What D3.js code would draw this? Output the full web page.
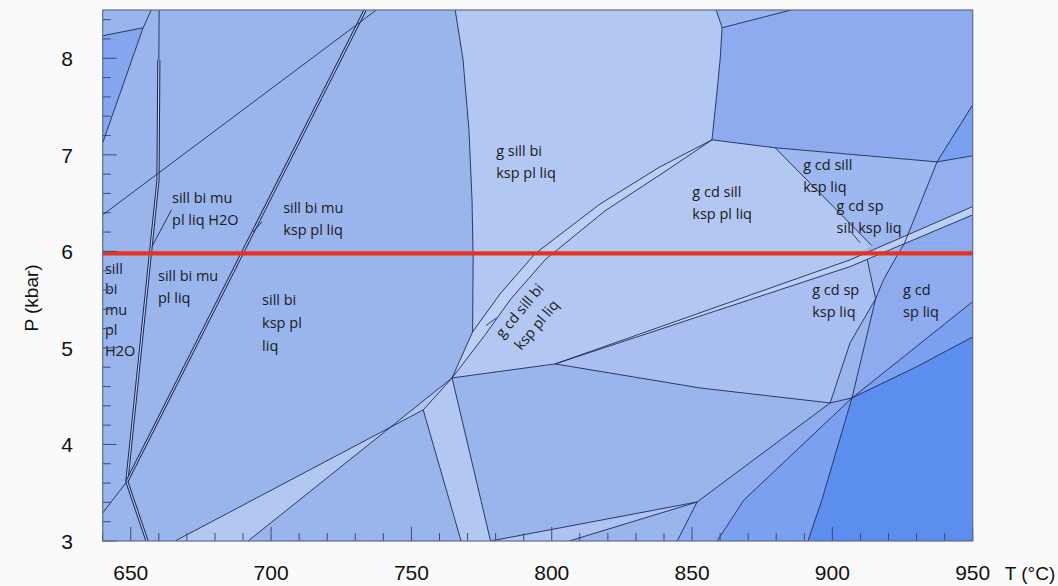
<!DOCTYPE html>
<html><head><meta charset="utf-8">
<script src="https://cdn.jsdelivr.net/npm/d3@7"></script>
<style>body{margin:0;background:#fafafa;overflow:hidden}</style></head>
<body><svg id="chart" width="1058" height="586"></svg>
<script>
// ---------- data (T in °C, P in kbar) ----------
const xTicks = [650,700,750,800,850,900,950];
const yTicks = [3,4,5,6,7,8];
const redLineP = 5.98;

// named points of the grid
const J1 = [648.6,3.615], W0 = [801.2,4.834], A0 = [764.5,4.689], A6 = [857.1,7.155];
const Q1 = [879.6,7.073], Q2 = [937.3,6.927], K = [907.0,4.482], M = [851.8,3.404];
const J2 = [915.4,5.508], E1 = [914.0,6.061], E2 = [926.9,6.172], E3 = [925.6,6.079], E4 = [912.4,5.919];
const C1 = [899.2,4.43], P1 = [754.2,4.358];

// fields
const fieldTriangle = [[640,8.233],[654.4,8.316],[640,7.124]];
const fieldL1 = [[765.6,8.5],[858.6,8.5],[860.7,8.316],[860.0,7.984],[858.6,7.57],A6,[838.6,6.876],[817.2,6.49],[794,5.974],[781.6,5.56],[771.8,5.166],[772.0,5.912],[771.6,6.534],[770.5,7.259],[768.4,7.984]];
const bandUpper = [A0,[771.8,5.166],[781.6,5.56],[794,5.974],[817.2,6.49],[838.6,6.876],A6];
const bandLower = [A0,[776,5.125],[785.5,5.51],[797.6,5.912],[819,6.42],[840,6.82],A6];
const wedgeUpper = [W0,[906.3,5.912],[950,6.464]];
const wedgeLower = [W0,[906.3,5.842],[950,6.378]];
const q2Line = [Q2,E2,E3,[923.6,5.984],[918.2,5.705],J2,K];
const fieldL2 = [A0,[776,5.125],[785.5,5.51],[797.6,5.912],[819,6.42],[840,6.82],A6,Q1,E1,[906.3,5.912],W0];
const fieldTopRight = [[860.7,8.316],[885.3,8.5],[950,8.5],[950,7.518],Q2,Q1,A6,[858.6,7.57],[860.0,7.984]];
const fieldRightNotch = [[950,7.518],Q2,[950,6.99]];
const fieldGcdSill = [Q1,Q2,E2,E1];
const fieldRightUpper = [Q2,[950,6.99],[950,6.464],E2];
const fieldWedge = [W0,[906.3,5.912],[950,6.464],[950,6.378],[906.3,5.842]];
const fieldGcdSpLiq = [E3,[950,6.378],[950,5.48],K,J2,[918.2,5.705],[923.6,5.984]];
const fieldSpKsp = [W0,[906.3,5.842],E4,J2,[906.3,5.052],C1,[852.9,4.585]];
const fieldSmallTri = [E4,E3,[923.6,5.984],[918.2,5.705],J2];
const fieldMidDark = [K,[950,5.48],[950,5.114],[930.1,4.806]];
const fieldDarkest = [K,[930.1,4.806],[950,5.114],[950,3],[891.3,3],[896.3,3.43]];
const fieldAB = [[844.7,3],M,C1,K,[868.5,3.425],[858.9,3]];
const fieldBDark = [[858.9,3],[868.5,3.425],K,[896.3,3.43],[891.3,3]];
const bandDiag = [[665.8,3],P1,A0,[691.8,3]];
const bandSteep = [P1,A0,[778.2,3],[767.7,3]];
const sliverBottom = [M,[806.2,3],[778.2,3]];

// phase boundaries
const linesSingle = [
  [[640,8.233],[654.4,8.316],[657.3,8.5]],
  [[654.4,8.316],[640,7.124]],
  [[660.1,8.5],[660.0,7.98]],
  [[640,6.378],[737.5,8.5]],
  [J1,[640,3.29]],
  [[657.5,6.047],[664.5,6.43]],
  [[693.5,6.2],[696.8,6.306]],
  [[765.6,8.5],[768.4,7.984],[770.5,7.259],[771.6,6.534],[772.0,5.912],[771.8,5.166]],
  [[858.6,8.5],[860.7,8.316],[860.0,7.984],[858.6,7.57],A6],
  [[860.7,8.316],[885.3,8.5]],
  [A6,Q1,Q2,[950,6.99]],
  [Q1,E1],
  [[950,7.518],Q2],
  q2Line, wedgeUpper, wedgeLower,
  [E4,J2],
  [J2,[906.3,5.052],C1],
  [A0,W0,[852.9,4.585],C1,K],
  [K,[930.1,4.806],[950,5.114]],
  [K,[950,5.48]],
  [K,[896.3,3.43],[891.3,3]],
  [K,[868.5,3.425],[858.9,3]],
  [C1,M,[844.7,3]],
  [M,[806.2,3]],
  [M,[778.2,3]],
  [[665.8,3],P1],
  [[691.8,3],A0],
  [[767.7,3],P1],
  [[778.2,3],A0],
  [P1,A0],
  [[776.5,5.23],[780.3,5.31]],
  [[906.3,6.21],[909.9,6.09]]
];
const linesDouble = [
  [[660.0,7.98],[659.7,6.74],J1],
  [J1,[733.5,8.5]],
  [J1,[655.8,3]]
];

// labels: text lines with their anchor (T,P)
const labels = [
  {lines:["g sill bi","ksp pl liq"], T:780.2, P:6.99},
  {lines:["g cd sill","ksp pl liq"], T:850.1, P:6.565},
  {lines:["g cd sill","ksp liq"], T:889.6, P:6.845},
  {lines:["g cd sp","sill ksp liq"], T:901.5, P:6.42},
  {lines:["sill bi mu","pl liq H2O"], T:664.7, P:6.503},
  {lines:["sill bi mu","ksp pl liq"], T:704.3, P:6.40},
  {lines:["sill","bi","mu","pl","H2O"], T:640.8, P:5.767, lh:20.5},
  {lines:["sill bi mu","pl liq"], T:659.7, P:5.694},
  {lines:["sill bi","ksp pl","liq"], T:696.8, P:5.446, lh:23},
  {lines:["g cd sill bi","ksp pl liq"], T:791.6, P:5.311, rot:-50},
  {lines:["g cd sp","ksp liq"], T:892.8, P:5.549},
  {lines:["g cd","sp liq"], T:925.2, P:5.549}
];

// ---------- styles ----------
const palette = {base:"#9ab4ec", light:"#b3c7f3", band:"#bccff6", dark:"#83a6ee",
  topRight:"#8eabef", gcd:"#9db7ef", rUpper:"#93aff0", spksp:"#a9bff2", smallTri:"#a0b8f0",
  gcdsp:"#8fabef", mid:"#7ba0ef", darkest:"#5b8eee", ab:"#8eabef", sliver:"#aec3f3"};
const lineCol = "#1d2b55";

const svg = d3.select("#chart");
const m = {l:102.7, r:972.7, t:10, b:541};
const x = d3.scaleLinear().domain([640,950]).range([m.l,m.r]);
const y = d3.scaleLinear().domain([3,8.5]).range([m.b,m.t]);
const line = d3.line().x(d=>x(d[0])).y(d=>y(d[1]));

svg.append("defs").append("clipPath").attr("id","clip").append("rect")
  .attr("x",m.l).attr("y",m.t).attr("width",m.r-m.l).attr("height",m.b-m.t);
const g = svg.append("g").attr("clip-path","url(#clip)");
g.append("rect").attr("x",m.l).attr("y",m.t).attr("width",m.r-m.l).attr("height",m.b-m.t).attr("fill",palette.base);

const fields = [
  [fieldTriangle,palette.dark],[fieldL1,palette.light],[fieldL2,palette.light],
  [fieldTopRight,palette.topRight],[fieldRightNotch,palette.mid],[fieldGcdSill,palette.gcd],
  [fieldRightUpper,palette.rUpper],[fieldGcdSpLiq,palette.gcdsp],[fieldSpKsp,palette.spksp],
  [fieldSmallTri,palette.smallTri],[fieldWedge,palette.band],[fieldMidDark,palette.mid],
  [fieldDarkest,palette.darkest],[fieldAB,palette.ab],[fieldBDark,palette.mid],
  [bandDiag,palette.light],[bandSteep,palette.light],[sliverBottom,palette.sliver],
  [bandUpper.concat(bandLower.slice().reverse()),palette.band]
];
fields.forEach(([pts,c])=>g.append("path").attr("d",line(pts)+"Z").attr("fill",c).attr("stroke","none"));

linesDouble.forEach(pts=>{
  g.append("path").attr("d",line(pts)).attr("fill","none").attr("stroke",lineCol).attr("stroke-width",3.2).attr("stroke-linejoin","round");
  g.append("path").attr("d",line(pts)).attr("fill","none").attr("stroke",palette.band).attr("stroke-width",1.1).attr("stroke-linejoin","round");
});
[bandUpper,bandLower].concat(linesSingle).forEach(pts=>
  g.append("path").attr("d",line(pts)).attr("fill","none").attr("stroke",lineCol).attr("stroke-width",0.9)
   .attr("stroke-linejoin","round"));

g.append("line").attr("x1",m.l).attr("x2",m.r).attr("y1",y(redLineP)).attr("y2",y(redLineP))
  .attr("stroke","#e8321e").attr("stroke-width",4.2);

labels.forEach(lb=>{
  const lh = lb.lh||22;
  const t = svg.append("text").attr("font-family","'Open Sans','Noto Sans',sans-serif").attr("font-size",14.5)
    .attr("fill","#1a1a1a");
  if(lb.rot){
    t.attr("transform",`translate(${x(lb.T)},${y(lb.P)}) rotate(${lb.rot})`).attr("text-anchor","middle");
    lb.lines.forEach((s,i)=>t.append("tspan").attr("x",0).attr("y",(i-0.5)*lh+5).text(s));
  } else {
    lb.lines.forEach((s,i)=>t.append("tspan").attr("x",x(lb.T)).attr("y",y(lb.P)+i*lh).text(s));
  }
});

const tickCol = "#3c4a78";
const xMinor = d3.range(640,951,10), yMinor = d3.range(3,8.51,0.2);
xMinor.forEach(v=>{const L = (v%50===0)?14:8;
  svg.append("line").attr("x1",x(v)).attr("x2",x(v)).attr("y1",m.b).attr("y2",m.b-L).attr("stroke",tickCol).attr("stroke-width",1);});
yMinor.forEach(v=>{const major = Math.abs(v-Math.round(v))<1e-6; const L = major?14:8;
  svg.append("line").attr("x1",m.l).attr("x2",m.l+L).attr("y1",y(v)).attr("y2",y(v)).attr("stroke",tickCol).attr("stroke-width",1);});
svg.append("rect").attr("x",m.l).attr("y",m.t).attr("width",m.r-m.l).attr("height",m.b-m.t)
  .attr("fill","none").attr("stroke","#5d6b92").attr("stroke-width",1.2);

const af = "'Liberation Sans',Arial,sans-serif";
xTicks.forEach(v=>svg.append("text").attr("x",x(v)).attr("y",580).attr("text-anchor","middle")
  .attr("font-family",af).attr("font-size",21).attr("fill","#111").text(v));
yTicks.forEach(v=>svg.append("text").attr("x",67).attr("y",y(v)+8).attr("text-anchor","middle")
  .attr("font-family",af).attr("font-size",21).attr("fill","#111").text(v));
svg.append("text").attr("x",1030).attr("y",580).attr("text-anchor","middle").attr("font-family",af)
  .attr("font-size",19).attr("fill","#111").text("T (°C)");
svg.append("text").attr("transform","translate(38,298) rotate(-90)").attr("text-anchor","middle")
  .attr("font-family",af).attr("font-size",19).attr("fill","#111").text("P (kbar)");
</script></body></html>
